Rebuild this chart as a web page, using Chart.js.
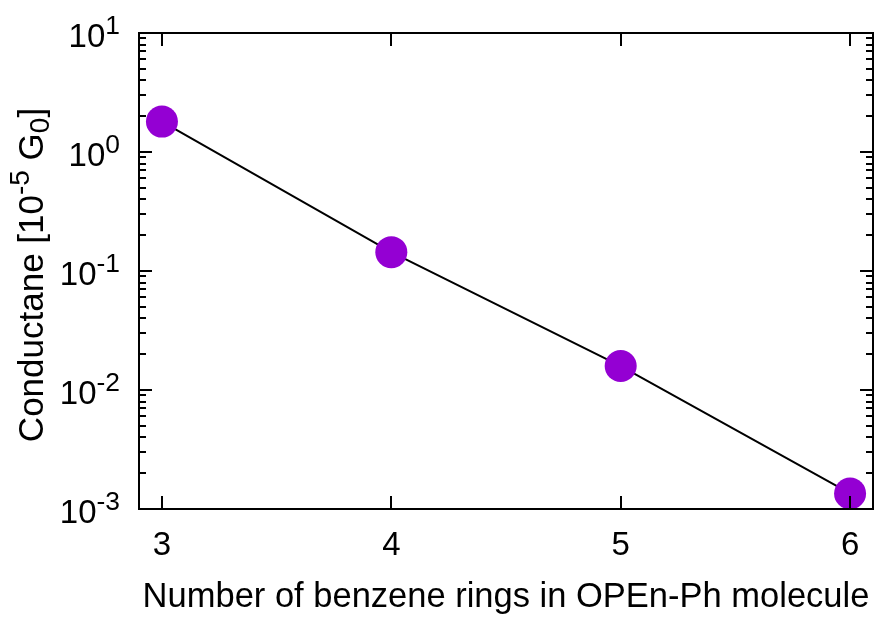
<!DOCTYPE html>
<html>
<head>
<meta charset="utf-8">
<script src="https://cdn.jsdelivr.net/npm/chart.js@4"></script>
<style>
  html, body { margin: 0; padding: 0; background: #fff; overflow: hidden; }
  #wrap { width: 874px; height: 617px; position: relative; }
  canvas { display: block; }
</style>
</head>
<body>
<div id="wrap"><canvas id="grafico"></canvas></div>
<script>
// datos
const rings = [3, 4, 5, 6];
const conductance = [1.80, 0.144, 0.0159, 0.00135];
const xTicks = [3, 4, 5, 6];
const yTickExps = [-3, -2, -1, 0, 1];
const xTitle = "Number of benzene rings in OPEn-Ph molecule";

const FONT = "Liberation Sans, Arial, Helvetica, sans-serif";

// dibuja texto con partes normal / sup / sub, devuelve ancho
function richText(ctx, parts, x, y, size, draw) {
    let w = 0;
    for (const p of parts) {
        const s = p.mode ? size * 0.8 : size;
        ctx.font = s + "px " + FONT;
        const dy = p.mode === "sup" ? -size * 0.4 : p.mode === "sub" ? size * 0.18 : 0;
        if (draw) ctx.fillText(p.t, x + w, y + dy);
        w += ctx.measureText(p.t).width;
    }
    return w;
}

const ejesGnuplot = {
    id: "ejesGnuplot",
    afterDraw(chart) {
        const ctx = chart.ctx;
        const a = chart.chartArea;
        const xs = chart.scales.x;
        const ys = chart.scales.y;
        ctx.save();
        ctx.strokeStyle = "#000";
        ctx.fillStyle = "#000";
        ctx.lineWidth = 2;
        ctx.textBaseline = "alphabetic";
        ctx.textAlign = "left";

        // borde
        ctx.strokeRect(a.left, a.top, a.right - a.left, a.bottom - a.top);

        ctx.beginPath();
        // ticks x (abajo y arriba)
        for (const v of xTicks) {
            const px = Math.round(xs.getPixelForValue(v));
            ctx.moveTo(px, a.bottom); ctx.lineTo(px, a.bottom - 13);
            ctx.moveTo(px, a.top); ctx.lineTo(px, a.top + 13);
        }
        // ticks y mayores y menores
        for (const e of yTickExps) {
            for (let m = 1; m <= 9; m++) {
                if (e === yTickExps[yTickExps.length - 1] && m > 1) break;
                const py = Math.round(ys.getPixelForValue(m * Math.pow(10, e)));
                const len = m === 1 ? 13 : 7;
                ctx.moveTo(a.left, py); ctx.lineTo(a.left + len, py);
                ctx.moveTo(a.right, py); ctx.lineTo(a.right - len, py);
            }
        }
        ctx.stroke();

        // etiquetas x
        ctx.font = "33px " + FONT;
        ctx.textAlign = "center";
        for (const v of xTicks) {
            ctx.fillText(String(v), xs.getPixelForValue(v), 555);
        }
        ctx.textAlign = "left";

        // etiquetas y: 10^e
        for (const e of yTickExps) {
            const py = ys.getPixelForValue(Math.pow(10, e));
            const parts = [{ t: "10" }, { t: String(e), mode: "sup" }];
            const w = richText(ctx, parts, 0, 0, 33, false);
            richText(ctx, parts, 120 - w, py + 14, 33, true);
        }

        // titulo x
        ctx.font = "34.5px " + FONT;
        ctx.textAlign = "center";
        ctx.fillText(xTitle, 506, 607);
        ctx.textAlign = "left";

        // titulo y rotado
        const partsY = [
            { t: "Conductane [10" },
            { t: "-5", mode: "sup" },
            { t: " G" },
            { t: "0", mode: "sub" },
            { t: "]" }
        ];
        const wy = richText(ctx, partsY, 0, 0, 35, false);
        ctx.translate(43, 275);
        ctx.rotate(-Math.PI / 2);
        richText(ctx, partsY, -wy / 2, 0, 35, true);

        ctx.restore();
    }
};

const ctx = document.getElementById("grafico").getContext("2d");
const grafico = new Chart(ctx, {
    type: "line",
    data: {
        datasets: [{
            data: rings.map((r, i) => ({ x: r, y: conductance[i] })),
            borderColor: "#000",
            borderWidth: 2,
            pointRadius: 16,
            pointHoverRadius: 16,
            pointBackgroundColor: "#9400d3",
            pointBorderWidth: 0,
            clip: false
        }]
    },
    options: {
        responsive: true,
        maintainAspectRatio: false,
        animation: false,
        layout: { autoPadding: false, padding: { left: 139, top: 33, right: 1, bottom: 108 } },
        plugins: { legend: { display: false }, tooltip: { enabled: false } },
        scales: {
            x: { type: "linear", min: 2.9, max: 6.1, display: false },
            y: { type: "logarithmic", min: 0.001, max: 10, display: false }
        }
    },
    plugins: [ejesGnuplot]
});
</script>
</body>
</html>
